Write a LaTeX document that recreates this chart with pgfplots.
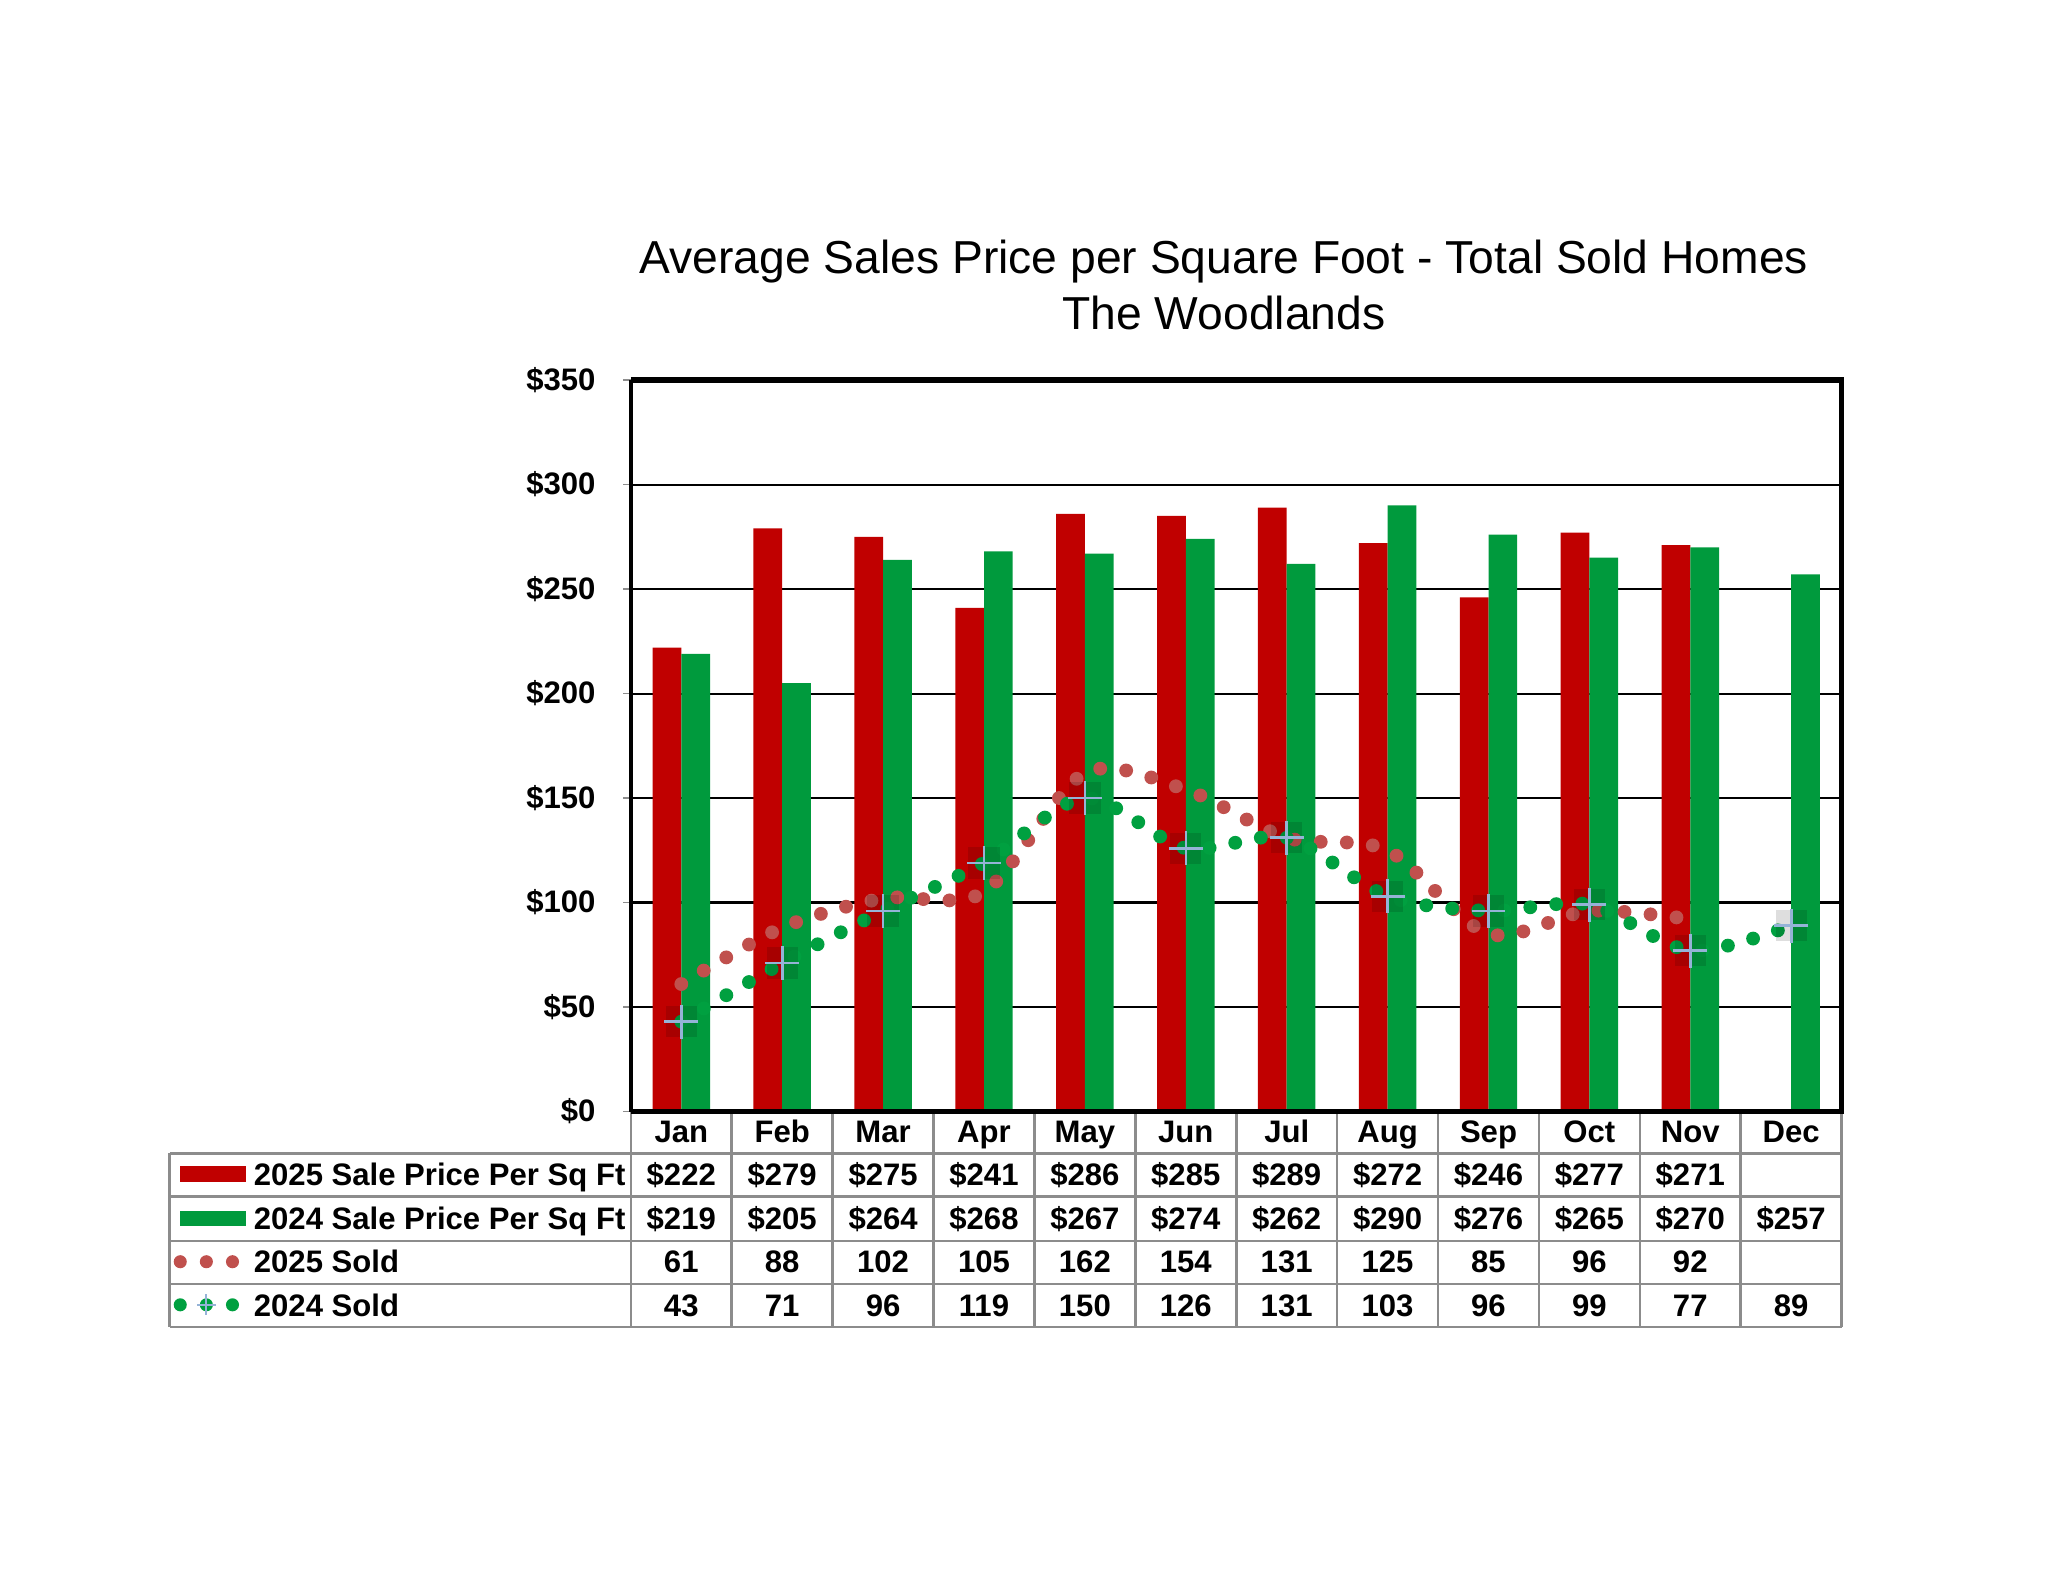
\documentclass[border=0pt]{standalone}
\usepackage{pgfplots}
\pgfplotsset{compat=1.18}
\usepackage{fontspec}
\setmainfont{Liberation Sans}
\definecolor{barred}{HTML}{C00000}
\definecolor{bargreen}{HTML}{009A3D}
\definecolor{dotred}{HTML}{C0504D}
\definecolor{dotgreen}{HTML}{00A040}
\definecolor{plusblue}{HTML}{95B3D7}
\definecolor{tblgray}{HTML}{8C8C8C}
\newcommand{\bfs}{\bfseries\fontsize{11.9}{14}\selectfont}
\begin{document}
\begin{tikzpicture}
\path[use as bounding box] (0,0) rectangle (784pt,606pt);
\begin{axis}[
  at={(241.5pt,180.5pt)}, anchor=south west,
  scale only axis, width=463.5pt, height=280pt,
  xmin=-0.5, xmax=11.5, ymin=0, ymax=350,
  xtick={0,...,11},
  xticklabels={Jan,Feb,Mar,Apr,May,Jun,Jul,Aug,Sep,Oct,Nov,Dec},
  xtick style={draw=none},
  xticklabel style={anchor=base, yshift=-8.8pt, font=\bfs},
  ytick={0,50,...,350},
  ytick pos=left,
  yticklabel={\$\pgfmathprintnumber{\tick}},
  /pgf/number format/assume math mode=true,
  yticklabel style={font=\bfs, xshift=-7pt},
  ytick style={draw=tblgray, line width=0.6pt},
  tick align=outside, major tick length=3pt,
  ymajorgrids, grid style={black, line width=0.8pt},
  axis line style={draw=none},
  clip=false,
]
% 2025 Sale Price per Sq Ft
\addplot[ybar, bar width=11pt, bar shift=-5.5pt, fill=barred, draw=none]
 coordinates {(0,222)(1,279)(2,275)(3,241)(4,286)(5,285)(6,289)(7,272)(8,246)(9,277)(10,271)};
% 2024 Sale Price per Sq Ft
\addplot[ybar, bar width=11pt, bar shift=5.5pt, fill=bargreen, draw=none]
 coordinates {(0,219)(1,205)(2,264)(3,268)(4,267)(5,274)(6,262)(7,290)(8,276)(9,265)(10,270)(11,257)};
% 2025 Sold
\addplot[smooth, tension=0.5, color=dotred, line width=5.3pt, line cap=round, dash pattern=on 0pt off 10pt, mark=none]
 coordinates {(0,61)(1,88)(2,102)(3,105)(4,162)(5,154)(6,131)(7,125)(8,85)(9,96)(10,92)};
% 2024 Sold
\addplot[smooth, tension=0.5, color=dotgreen, line width=5.3pt, line cap=round, dash pattern=on 0pt off 10pt, mark=none]
 coordinates {(0,43)(1,71)(2,96)(3,119)(4,150)(5,126)(6,131)(7,103)(8,96)(9,99)(10,77)(11,89)};
\addplot[only marks, mark=square*, mark size=6pt, mark options={fill=black, fill opacity=0.13, draw opacity=0}]
 coordinates {(0,43)(1,71)(2,96)(3,119)(4,150)(5,126)(6,131)(7,103)(8,96)(9,99)(10,77)(11,89)};
\addplot[only marks, mark=+, mark size=6.5pt, mark options={draw=plusblue, line width=1pt}]
 coordinates {(0,43)(1,71)(2,96)(3,119)(4,150)(5,126)(6,131)(7,103)(8,96)(9,99)(10,77)(11,89)};
\end{axis}
\begin{scope}[x=0.5pt, y=-0.5pt, yshift=606pt]
% title
\node[font=\fontsize{17.7}{21}\selectfont] at (937,200) {Average Sales Price per Square Foot - Total Sold Homes};
\node[font=\fontsize{17.7}{21}\selectfont] at (937,240) {The Woodlands};
% table grid
\begin{scope}[draw=tblgray, line width=1pt]
\foreach \yy in {883,916,950,983,1016} {\draw (130,\yy) -- (1410,\yy);}
\draw (130,883) -- (130,1016);
\foreach \k in {0,...,12} {\draw ({483+77.25*\k},851) -- ({483+77.25*\k},1016);}
\end{scope}
% frame
\draw[black, line width=1.3pt] (483,851) -- (483,291);
\draw[black, line width=2.1pt] (483,291) -- (1410,291) -- (1410,851) -- (483,851);
% legend keys
\fill[barred] (138,893) rectangle (188,905);
\fill[bargreen] (138,927) rectangle (188,939);
\foreach \xx in {138,158,178} {\fill[dotred] (\xx,966) circle (5);}
\foreach \xx in {138,158,178} {\fill[dotgreen] (\xx,999) circle (5);}
\draw[plusblue, line width=0.8pt] (151,999) -- (165,999) (158,991) -- (158,1007);
% row labels
\begin{scope}[font=\bfs]
\node[anchor=base west, inner sep=0pt] at (194,908) {2025 Sale Price Per Sq Ft};
\node[anchor=base west, inner sep=0pt] at (194,941.5) {2024 Sale Price Per Sq Ft};
\node[anchor=base west, inner sep=0pt] at (194,974.5) {2025 Sold};
\node[anchor=base west, inner sep=0pt] at (194,1008) {2024 Sold};
\foreach \v [count=\i from 0] in {222,279,275,241,286,285,289,272,246,277,271}
  {\node[anchor=base] at ({521.6+77.25*\i},908) {\$\v};}
\foreach \v [count=\i from 0] in {219,205,264,268,267,274,262,290,276,265,270,257}
  {\node[anchor=base] at ({521.6+77.25*\i},941.5) {\$\v};}
\foreach \v [count=\i from 0] in {61,88,102,105,162,154,131,125,85,96,92}
  {\node[anchor=base] at ({521.6+77.25*\i},974.5) {\v};}
\foreach \v [count=\i from 0] in {43,71,96,119,150,126,131,103,96,99,77,89}
  {\node[anchor=base] at ({521.6+77.25*\i},1008) {\v};}
\end{scope}
\end{scope}
\end{tikzpicture}
\end{document}
